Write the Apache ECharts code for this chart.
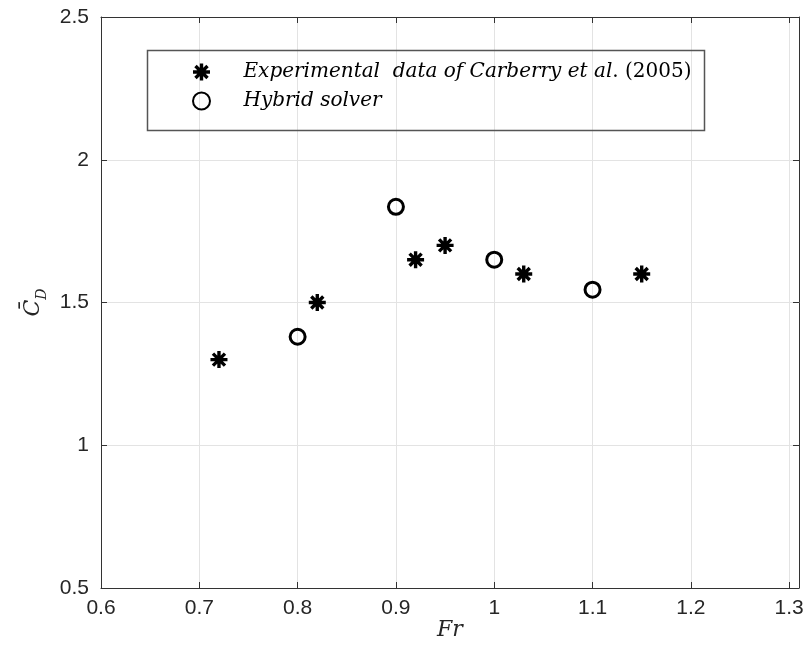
<!DOCTYPE html>
<html>
<head>
<meta charset="utf-8">
<script src="https://cdn.jsdelivr.net/npm/echarts@6/dist/echarts.min.js"></script>
<style>
html,body{margin:0;padding:0;background:#fff;}
#chart{width:811px;height:665px;}
</style>
</head>
<body>
<div id="chart"></div>
<script>
// ---- data ----
var expName = 'Experimental  data of Carberry et al. (2005)';
var hybName = 'Hybrid solver';
var expFr = [0.72, 0.82, 0.92, 0.95, 1.03, 1.15];
var expCd = [1.30, 1.50, 1.65, 1.70, 1.60, 1.60];
var hybFr = [0.80, 0.90, 1.00, 1.10];
var hybCd = [1.38, 1.835, 1.65, 1.545];
var xTicks = [0.6, 0.7, 0.8, 0.9, 1.0, 1.1, 1.2, 1.3];
var yTicks = [0.5, 1, 1.5, 2, 2.5];

function pairs(xs, ys){ return xs.map(function(x,i){ return [x, ys[i]]; }); }

// asterisk marker (MATLAB '*' = '+' combined with 'x')
var asterisk = 'path://M-50,-10L50,-10L50,10L-50,10Z' +
  'M-10,-50L10,-50L10,50L-10,50Z' +
  'M-42.43,-28.29L-28.29,-42.43L42.43,28.29L28.29,42.43Z' +
  'M-28.29,42.43L-42.43,28.29L28.29,-42.43L42.43,-28.29Z';

var axisCol = '#333333';
var labelFont = 'Liberation Sans';
var serif = "'DejaVu Serif', 'Liberation Serif', serif";

var chart = echarts.init(document.getElementById('chart'));
var baseX = {
  type: 'value', min: xTicks[0], max: 1.31, interval: 0.1,
  axisLine: {show: true, onZero: false, lineStyle: {color: axisCol, width: 1}},
  axisTick: {show: true, inside: true, length: 6, lineStyle: {color: axisCol}},
};
var baseY = {
  type: 'value', min: yTicks[0], max: yTicks[yTicks.length-1], interval: 0.5,
  axisLine: {show: true, onZero: false, lineStyle: {color: axisCol, width: 1}},
  axisTick: {show: true, inside: true, length: 6, lineStyle: {color: axisCol}},
};
var option = {
  backgroundColor: '#ffffff',
  animation: false,
  grid: {left: 101, right: 12, top: 17, bottom: 77, containLabel: false, outerBoundsMode: 'none'},
  xAxis: [
    Object.assign({}, baseX, {
      position: 'bottom',
      name: 'Fr', nameLocation: 'middle', nameGap: 31, nameMoveOverlap: false,
      nameTextStyle: {fontFamily: serif, fontStyle: 'italic', fontSize: 22, color: '#262626'},
      axisLabel: {show: true, showMaxLabel: false, margin: 10, fontSize: 21, color: '#262626', fontFamily: labelFont,
        formatter: function(v){ return String(Math.round(v*10)/10); }},
      splitLine: {show: true, lineStyle: {color: '#e3e3e3', width: 1}}
    }),
    Object.assign({}, baseX, {
      position: 'top', axisLabel: {show: false}, splitLine: {show: false}
    })
  ],
  yAxis: [
    Object.assign({}, baseY, {
      position: 'left',
      name: '{c|C\u0304}{d|D}', nameLocation: 'middle', nameGap: 55, nameRotate: 90,
      nameTextStyle: {
        color: '#262626',
        rich: {
          c: {fontFamily: serif, fontStyle: 'italic', fontSize: 22, color: '#262626', verticalAlign: 'bottom'},
          d: {fontFamily: serif, fontStyle: 'italic', fontSize: 14, color: '#262626', verticalAlign: 'bottom', padding: [0,0,-5,0]}
        }
      },
      axisLabel: {show: true, margin: 12, fontSize: 21, color: '#262626', fontFamily: labelFont},
      splitLine: {show: true, lineStyle: {color: '#e3e3e3', width: 1}}
    }),
    Object.assign({}, baseY, {
      position: 'right', axisLabel: {show: false}, splitLine: {show: false}
    })
  ],
  legend: {
    orient: 'vertical', left: 145, top: 49,
    padding: [13, 0, 0, 47],
    itemWidth: 74, itemHeight: 17, itemGap: 9,
    symbolKeepAspect: true,
    data: [{name: expName, icon: asterisk}, {name: hybName, icon: 'circle'}],
    formatter: function(name){
      if (name === expName) return '{i|Experimental  data of Carberry et al}{u|. (2005)}';
      return '{i|' + name + '}';
    },
    textStyle: {
      color: '#000',
      rich: {
        i: {fontFamily: serif, fontStyle: 'italic', fontSize: 20, color: '#000', lineHeight: 22},
        u: {fontFamily: serif, fontSize: 20, color: '#000', lineHeight: 22}
      }
    }
  },
  graphic: [{
    type: 'rect', left: 145, top: 48, z: 100, silent: true,
    shape: {width: 557, height: 80},
    style: {fill: 'none', stroke: '#555555', lineWidth: 1.5}
  }],
  series: [
    {
      name: expName, type: 'scatter', xAxisIndex: 0, yAxisIndex: 0,
      data: pairs(expFr, expCd),
      symbol: asterisk, symbolSize: 17, symbolKeepAspect: true,
      itemStyle: {color: '#000000', opacity: 1}
    },
    {
      name: hybName, type: 'scatter', xAxisIndex: 0, yAxisIndex: 0,
      data: pairs(hybFr, hybCd),
      symbol: 'circle', symbolSize: 15,
      itemStyle: {color: 'rgba(0,0,0,0)', borderColor: '#000000', borderWidth: 3, opacity: 1}
    }
  ]
};
chart.setOption(option);
</script>
</body>
</html>
